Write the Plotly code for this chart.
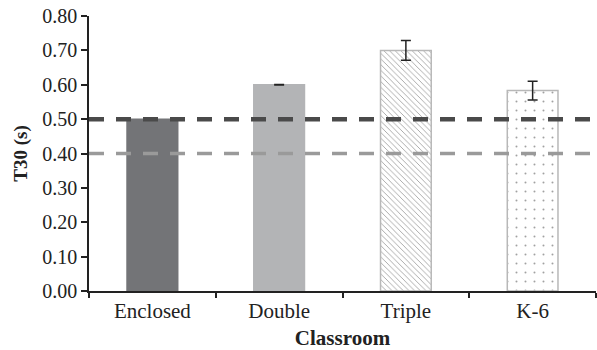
import plotly.graph_objects as go

categories = ["Enclosed", "Double", "Triple", "K-6"]
t30_values = [0.50, 0.60, 0.70, 0.583]
t30_errors = [None, 0.001, 0.029, 0.027]
ref_dark = 0.50
ref_light = 0.40
y_ticks = [0.0, 0.1, 0.2, 0.3, 0.4, 0.5, 0.6, 0.7, 0.8]

fill_colors = ["#737477", "#b3b4b6", "#ffffff", "#ffffff"]
line_colors = ["#737477", "#b3b4b6", "#b8b8b8", "#b8b8b8"]
pattern_shapes = ["", "", "\\", "."]

font_family = "Liberation Serif, Times New Roman, serif"

fig = go.Figure()
fig.add_trace(go.Bar(
    x=categories,
    y=t30_values,
    width=0.4,
    marker=dict(
        color=fill_colors,
        line=dict(color=line_colors, width=1.5),
        pattern=dict(shape=pattern_shapes, fgcolor="#a8a8a8", bgcolor="#ffffff",
                     size=[8, 8, 4, 9], solidity=[0.3, 0.3, 0.22, 0.04]),
    ),
    error_y=dict(type="data", array=t30_errors, visible=True,
                 color="#222222", thickness=1.5, width=5),
    showlegend=False,
))

fig.add_shape(type="line", xref="paper", yref="y", x0=0, x1=1, y0=ref_dark, y1=ref_dark,
              line=dict(color="#4a4a4a", width=4.5, dash="15px,12px"))
fig.add_shape(type="line", xref="paper", yref="y", x0=0, x1=1, y0=ref_light, y1=ref_light,
              line=dict(color="#9a9a9a", width=3.5, dash="15px,12px"))

fig.update_layout(
    width=597, height=350,
    margin=dict(l=89, r=1, t=16, b=59),
    paper_bgcolor="white", plot_bgcolor="white",
    font=dict(family=font_family, size=20, color="#222222"),
    bargap=0.6,
    xaxis=dict(
        automargin=False,
        showline=True, linecolor="#222222", linewidth=1.5,
        ticks="outside", ticklen=5, tickwidth=1.5, tickcolor="#222222",
        tickson="boundaries",
        title=dict(text="<b>Classroom</b>", font=dict(size=21), standoff=8),
        tickfont=dict(size=21),
    ),
    yaxis=dict(
        automargin=False,
        range=[0, 0.8], tickvals=y_ticks, tickformat=".2f",
        showline=True, linecolor="#222222", linewidth=1.5,
        ticks="outside", ticklen=6, tickwidth=1.5, tickcolor="#222222",
        showgrid=False, zeroline=False,
        title=dict(text="<b>T30 (s)</b>", font=dict(size=19), standoff=10),
        tickfont=dict(size=20),
    ),
)

fig.write_html(
    "out.html",
    config={"displayModeBar": False},
    post_script="document.body.style.margin='0';document.body.style.overflow='hidden';",
)
